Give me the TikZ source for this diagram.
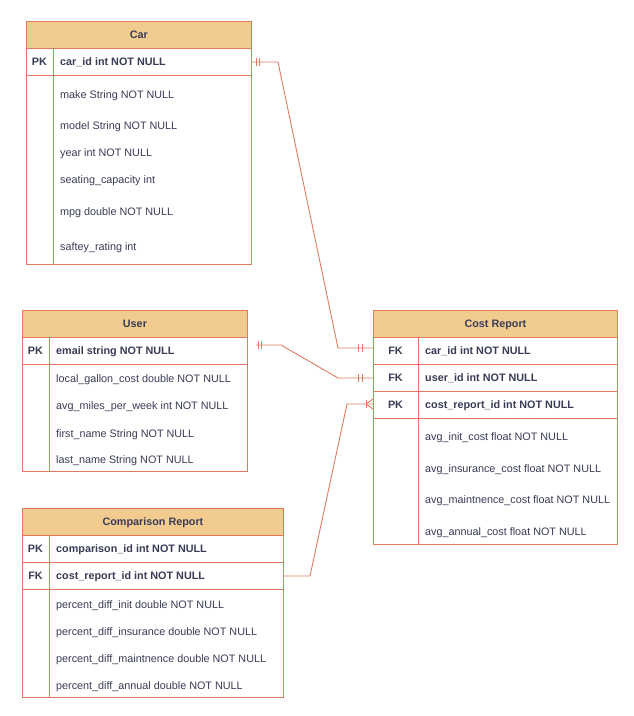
\documentclass[tikz,border=0pt]{standalone}
\usepackage{fontspec}
\setmainfont{Liberation Sans}
\definecolor{edge}{HTML}{E07A5F}
\definecolor{headfill}{HTML}{F2CC8F}
\definecolor{ink}{HTML}{393C56}

\begin{document}
\begin{tikzpicture}[x=1pt,y=-1pt,
  every node/.style={font=\fontsize{10.8}{13}\selectfont, text=ink, inner sep=0pt},
  box/.style={draw=edge, line width=0.9pt, fill=white, anchor=north west},
  head/.style={draw=edge, line width=0.9pt, fill=headfill, anchor=north west,
    font=\fontsize{10.8}{13}\selectfont\bfseries, text height=7.7pt, text depth=0pt},
  keyrow/.style={draw=edge, line width=0.9pt, anchor=north west},
  field/.style={anchor=west, text height=7.7pt, text depth=0pt},
  keyfield/.style={field, font=\fontsize{10.8}{13}\selectfont\bfseries},
  keytag/.style={text height=7.7pt, text depth=0pt, font=\fontsize{10.8}{13}\selectfont\bfseries},
  rule/.style={draw=edge, line width=0.9pt},
  conn/.style={draw=edge, line width=0.9pt},
]
\useasboundingbox (0,0) rectangle (633,716);

% ---------- Car ----------
\node[box, minimum width=225pt, minimum height=243pt] (car) at (26,21) {};
\node[head, minimum width=225pt, minimum height=27pt] (carhead) at (26,21) {Car};
\node[keyrow, minimum width=225pt, minimum height=27pt] (carkey1) at (26,48) {};
\draw[rule] ([xshift=27pt]carhead.south west) -- ([xshift=27pt]car.south west);
\node[keytag] (cartag1) at (39.5,61.7) {PK};
\node[keyfield] (carf0) at (60,61.7) {car\_id int NOT NULL};
\node[field] (carf1) at (60,94.7) {make String NOT NULL};
\node[field] (carf2) at (60,125.5) {model String NOT NULL};
\node[field] (carf3) at (60,153) {year int NOT NULL};
\node[field] (carf4) at (60,179.7) {seating\_capacity int};
\node[field] (carf5) at (60,211.3) {mpg double NOT NULL};
\node[field] (carf6) at (60,247) {saftey\_rating int};

% ---------- User ----------
\node[box, minimum width=225pt, minimum height=161pt] (user) at (22,310) {};
\node[head, minimum width=225pt, minimum height=27pt] (userhead) at (22,310) {User};
\node[keyrow, minimum width=225pt, minimum height=27pt] (userkey1) at (22,337) {};
\draw[rule] ([xshift=27pt]userhead.south west) -- ([xshift=27pt]user.south west);
\node[keytag] (usertag1) at (35.5,351) {PK};
\node[keyfield] (userf0) at (56,351) {email string NOT NULL};
\node[field] (userf1) at (56,378.7) {local\_gallon\_cost double NOT NULL};
\node[field] (userf2) at (56,406) {avg\_miles\_per\_week int NOT NULL};
\node[field] (userf3) at (56,433.7) {first\_name String NOT NULL};
\node[field] (userf4) at (56,459.7) {last\_name String NOT NULL};

% ---------- Cost Report ----------
\node[box, minimum width=244pt, minimum height=234pt] (cost) at (373,310) {};
\node[head, minimum width=244pt, minimum height=27pt] (costhead) at (373,310) {Cost Report};
\node[keyrow, minimum width=244pt, minimum height=27pt] (costkey1) at (373,337) {};
\node[keyrow, minimum width=244pt, minimum height=27pt] (costkey2) at (373,364) {};
\node[keyrow, minimum width=244pt, minimum height=27pt] (costkey3) at (373,391) {};
\draw[rule] ([xshift=45pt]costhead.south west) -- ([xshift=45pt]cost.south west);
\node[keytag] (costtag1) at (395.5,351) {FK};
\node[keytag] (costtag2) at (395.5,378) {FK};
\node[keytag] (costtag3) at (395.5,405) {PK};
\node[keyfield] (costf0) at (425,351) {car\_id int NOT NULL};
\node[keyfield] (costf1) at (425,378) {user\_id int NOT NULL};
\node[keyfield] (costf2) at (425,405) {cost\_report\_id int NOT NULL};
\node[field] (costf3) at (425,437) {avg\_init\_cost float NOT NULL};
\node[field] (costf4) at (425,468.7) {avg\_insurance\_cost float NOT NULL};
\node[field] (costf5) at (425,500) {avg\_maintnence\_cost float NOT NULL};
\node[field] (costf6) at (425,532) {avg\_annual\_cost float NOT NULL};

% ---------- Comparison Report ----------
\node[box, minimum width=261pt, minimum height=189pt] (comp) at (22,508) {};
\node[head, minimum width=261pt, minimum height=27pt] (comphead) at (22,508) {Comparison Report};
\node[keyrow, minimum width=261pt, minimum height=27pt] (compkey1) at (22,535) {};
\node[keyrow, minimum width=261pt, minimum height=27pt] (compkey2) at (22,562) {};
\draw[rule] ([xshift=27pt]comphead.south west) -- ([xshift=27pt]comp.south west);
\node[keytag] (comptag1) at (35.5,549) {PK};
\node[keytag] (comptag2) at (35.5,576) {FK};
\node[keyfield] (compf0) at (56,549) {comparison\_id int NOT NULL};
\node[keyfield] (compf1) at (56,576) {cost\_report\_id int NOT NULL};
\node[field] (compf2) at (56,605) {percent\_diff\_init double NOT NULL};
\node[field] (compf3) at (56,632) {percent\_diff\_insurance double NOT NULL};
\node[field] (compf4) at (56,658.7) {percent\_diff\_maintnence double NOT NULL};
\node[field] (compf5) at (56,685.3) {percent\_diff\_annual double NOT NULL};

% ---------- Relationships ----------
% Car (1) -- Cost Report (1)
\coordinate (ca) at (278,62);
\coordinate (cb) at (338,348);
\coordinate (cend) at (costkey1.west |- cb);
\draw[conn] (carkey1.east) -- (ca) -- (cb) -- (cend);
\draw[conn] ([xshift=5pt]carkey1.east) ++(0,-4) -- ++(0,8);
\draw[conn] ([xshift=8pt]carkey1.east) ++(0,-4) -- ++(0,8);
\draw[conn] ([xshift=-15pt]cend) ++(0,-4) -- ++(0,8);
\draw[conn] ([xshift=-11pt]cend) ++(0,-4) -- ++(0,8);

% User (1) -- Cost Report (1)
\coordinate (u0) at ([shift={(8,-6)}]userkey1.east);
\coordinate (ua) at (281,345);
\coordinate (ub) at (338,378);
\coordinate (uend) at (costkey2.west |- ub);
\draw[conn] (u0) -- (ua) -- (ub) -- (uend);
\draw[conn] ([xshift=3pt]u0) ++(0,-4) -- ++(0,8);
\draw[conn] ([xshift=6pt]u0) ++(0,-4) -- ++(0,8);
\draw[conn] ([xshift=-15pt]uend) ++(0,-4) -- ++(0,8);
\draw[conn] ([xshift=-11pt]uend) ++(0,-4) -- ++(0,8);

% Comparison Report (many) -- Cost Report (1)
\coordinate (pa) at (310,576);
\coordinate (pb) at (347,404);
\coordinate (pend) at (costkey3.west |- pb);
\draw[conn] (compkey2.east |- pa) -- (pa) -- (pb) -- (pend);
\draw[conn] ([xshift=-7pt]pend) ++(0,-4) -- ++(0,8);
\draw[conn] ([xshift=-7pt]pend) -- ([yshift=-5pt]pend);
\draw[conn] ([xshift=-7pt]pend) -- ([yshift=5pt]pend);
\end{tikzpicture}
\end{document}
